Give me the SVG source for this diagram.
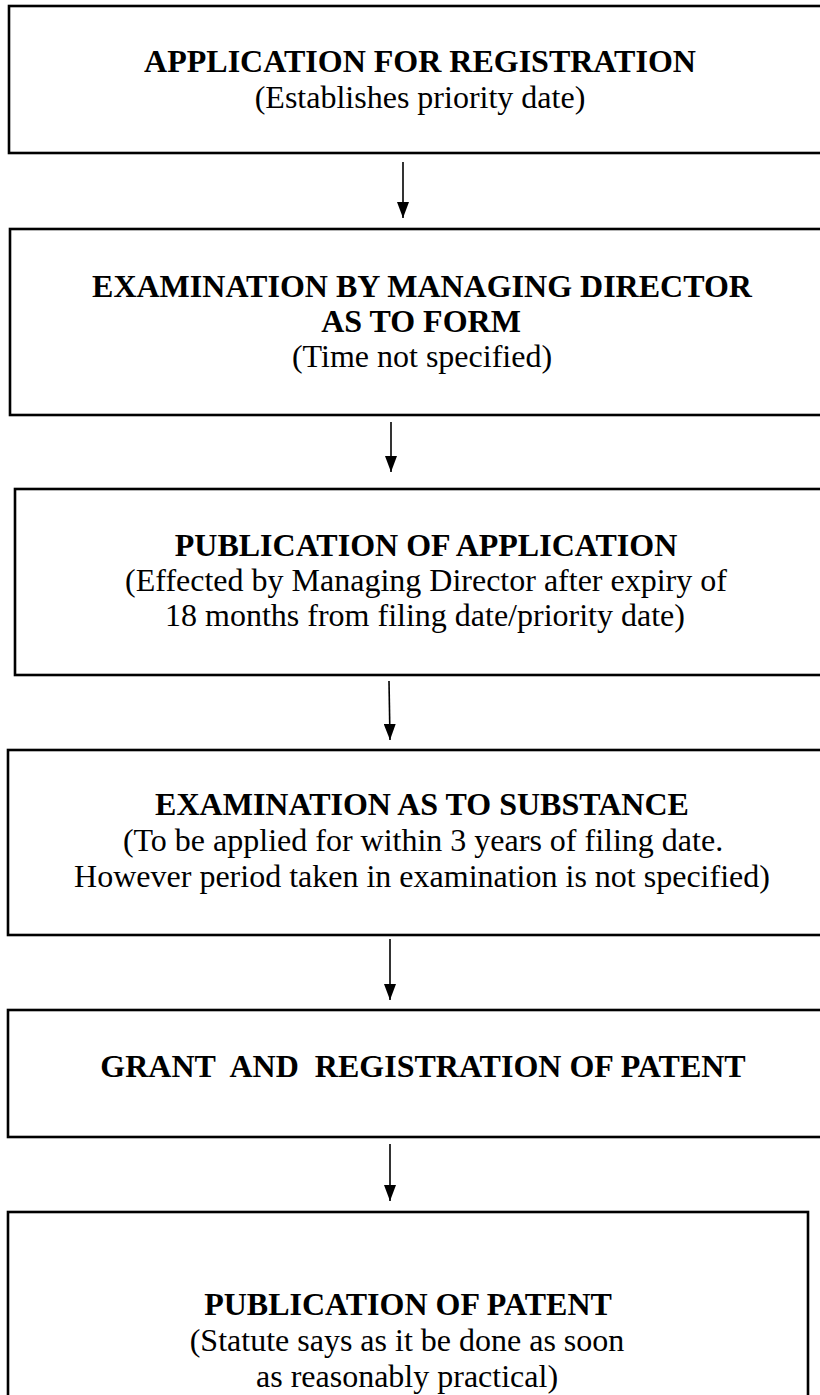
<svg xmlns="http://www.w3.org/2000/svg" width="820" height="1395" viewBox="0 0 820 1395">
<style>
.box{fill:#fff;stroke:#000;stroke-width:2.6}
.t{font-family:"Liberation Serif","Times New Roman",serif;font-size:32px;font-weight:bold;text-anchor:middle;fill:#000}
.s{font-family:"Liberation Serif","Times New Roman",serif;font-size:32px;text-anchor:middle;fill:#000}
.c{stroke:#000;stroke-width:1.6;fill:none}
</style>
<defs>
<marker id="arr" viewBox="0 0 16 12" refX="16" refY="6" markerWidth="16" markerHeight="12" markerUnits="userSpaceOnUse" orient="auto">
<path d="M0,0 L16,6 L0,12 Z" fill="#000"/>
</marker>
</defs>
<rect width="820" height="1395" fill="#fff"/>
<g id="connectors">
<line class="c" x1="403" y1="162" x2="403" y2="218" marker-end="url(#arr)"/>
<line class="c" x1="391" y1="422" x2="391" y2="472" marker-end="url(#arr)"/>
<line class="c" x1="389" y1="681" x2="390" y2="740" marker-end="url(#arr)"/>
<line class="c" x1="390" y1="939" x2="390" y2="1000" marker-end="url(#arr)"/>
<line class="c" x1="390" y1="1144" x2="390" y2="1201" marker-end="url(#arr)"/>
</g>
<g id="n1">
<rect class="box" x="9" y="6" width="820" height="147"/>
<text class="t" x="420" y="72">APPLICATION FOR REGISTRATION</text>
<text class="s" x="420" y="108">(Establishes priority date)</text>
</g>
<g id="n2">
<rect class="box" x="10" y="229" width="820" height="186"/>
<text class="t" x="422" y="297">EXAMINATION BY MANAGING DIRECTOR</text>
<text class="t" x="421" y="332">AS TO FORM</text>
<text class="s" x="422" y="367">(Time not specified)</text>
</g>
<g id="n3">
<rect class="box" x="15" y="489" width="820" height="186"/>
<text class="t" x="426" y="556">PUBLICATION OF APPLICATION</text>
<text class="s" x="426" y="591">(Effected by Managing Director after expiry of</text>
<text class="s" x="425" y="626">18 months from filing date/priority date)</text>
</g>
<g id="n4">
<rect class="box" x="8" y="750" width="820" height="185"/>
<text class="t" x="422" y="815">EXAMINATION AS TO SUBSTANCE</text>
<text class="s" x="423" y="851">(To be applied for within 3 years of filing date.</text>
<text class="s" x="422" y="887">However period taken in examination is not specified)</text>
</g>
<g id="n5">
<rect class="box" x="8" y="1010" width="820" height="127"/>
<text class="t" x="423" y="1077" xml:space="preserve">GRANT  AND  REGISTRATION OF PATENT</text>
</g>
<g id="n6">
<rect class="box" x="8" y="1212" width="800" height="220"/>
<text class="t" x="408" y="1315">PUBLICATION OF PATENT</text>
<text class="s" x="407" y="1351">(Statute says as it be done as soon</text>
<text class="s" x="407" y="1387">as reasonably practical)</text>
</g>
</svg>
